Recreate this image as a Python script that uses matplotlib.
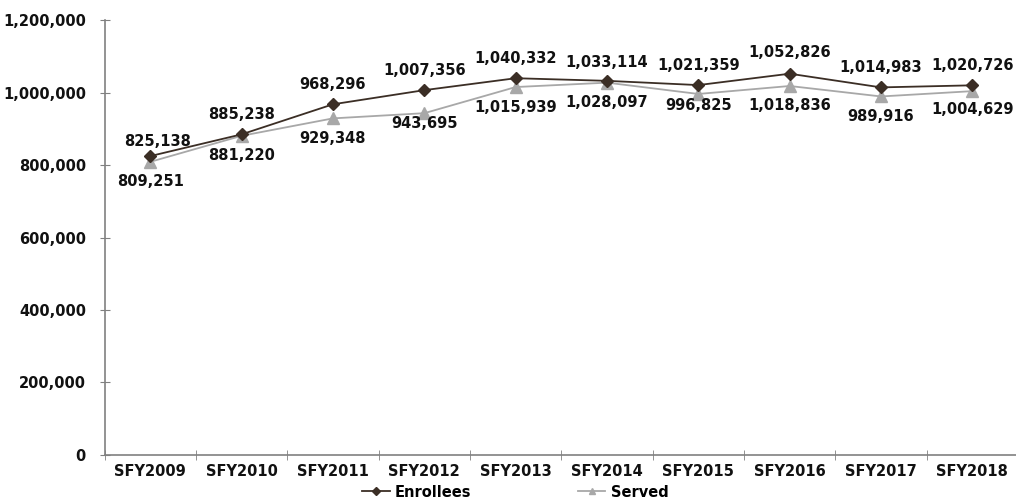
import matplotlib
matplotlib.use("Agg")
import matplotlib.pyplot as plt
from matplotlib.ticker import FuncFormatter, FixedLocator

categories = ["SFY2009", "SFY2010", "SFY2011", "SFY2012", "SFY2013",
              "SFY2014", "SFY2015", "SFY2016", "SFY2017", "SFY2018"]
enrollees = [825138, 885238, 968296, 1007356, 1040332,
             1033114, 1021359, 1052826, 1014983, 1020726]
served = [809251, 881220, 929348, 943695, 1015939,
          1028097, 996825, 1018836, 989916, 1004629]

# label offsets (points) – style only
enr_off = [(5, 5), (0, 9), (0, 9), (0, 9), (0, 9), (0, 8), (0, 9), (0, 10), (0, 9), (0, 9)]
srv_off = [(0, -9), (0, -9), (0, -9), (0, -2), (0, -9), (0, -9), (0, -3), (0, -9), (0, -9), (0, -8)]

plt.rcParams['font.family'] = ['DejaVu Sans']
fig = plt.figure(figsize=(10.16, 4.99), dpi=100)
ax = fig.add_axes([0.103, 0.089, 0.899, 0.870])

x = list(range(len(categories)))
c_enr = '#3b2e25'
c_srv = '#a8a8a8'
ax.plot(x, served, color=c_srv, marker='^', markersize=8, linewidth=1.3, label='Served', zorder=2)
ax.plot(x, enrollees, color=c_enr, marker='D', markersize=6.5, linewidth=1.3, label='Enrollees', zorder=3)

for xi, v, o in zip(x, enrollees, enr_off):
    ax.annotate(f"{v:,}", (xi, v), xytext=o, textcoords='offset points',
                ha='center', va='bottom', fontsize=10.5, fontweight='bold', color='#111111')
for xi, v, o in zip(x, served, srv_off):
    ax.annotate(f"{v:,}", (xi, v), xytext=o, textcoords='offset points',
                ha='center', va='top', fontsize=10.5, fontweight='bold', color='#111111')

ax.set_xlim(-0.5, len(categories) - 0.5)
ax.set_ylim(0, 1200000)
ax.set_yticks([0, 200000, 400000, 600000, 800000, 1000000, 1200000])
ax.yaxis.set_major_formatter(FuncFormatter(lambda v, p: f"{int(v):,}"))
ax.set_xticks(x)
ax.set_xticklabels(categories)
ax.xaxis.set_minor_locator(FixedLocator([i - 0.5 for i in range(len(categories) + 1)]))
ax.tick_params(axis='x', which='major', length=0, pad=7)
ax.tick_params(axis='x', which='minor', length=7, direction='inout', color='#808080')
ax.tick_params(axis='y', length=7, direction='inout', color='#808080', pad=10)
for lbl in ax.get_xticklabels() + ax.get_yticklabels():
    lbl.set_fontsize(10.5)
    lbl.set_fontweight('bold')
    lbl.set_color('#111111')

for s in ['top', 'right']:
    ax.spines[s].set_visible(False)
for s in ['left', 'bottom']:
    ax.spines[s].set_color('#808080')
    ax.spines[s].set_linewidth(1.2)

handles, labels = ax.get_legend_handles_labels()
leg = fig.legend(handles[::-1], labels[::-1], loc='center', bbox_to_anchor=(0.507, 0.014),
                 ncol=2, frameon=False, fontsize=10.5, columnspacing=7.3, handlelength=1.9,
                 handletextpad=0.35, markerscale=0.6, borderpad=0.1)
for t in leg.get_texts():
    t.set_fontweight('bold')

fig.savefig("out.png", dpi=100)
